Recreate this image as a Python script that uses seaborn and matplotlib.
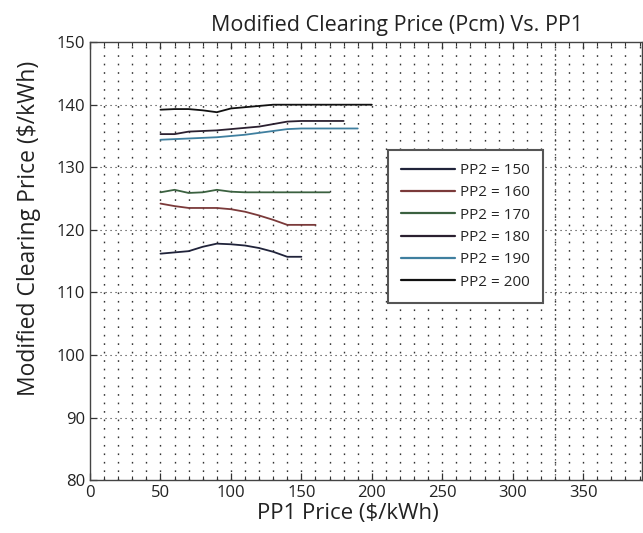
"""Modified clearing price vs PP1 price for several PP2 levels."""

import matplotlib.pyplot as plt
import seaborn as sns
import pandas as pd
import numpy as np
from matplotlib.ticker import MultipleLocator

# PP1 price samples (every 10 $/kWh from 50)
pp1_150 = [50, 60, 70, 80, 90, 100, 110, 120, 130, 140, 150]
pcm_150 = [116.2, 116.4, 116.6, 117.3, 117.8, 117.7, 117.5, 117.1, 116.5, 115.7, 115.7]

pp1_160 = [50, 60, 70, 80, 90, 100, 110, 120, 130, 140, 150, 160]
pcm_160 = [124.2, 123.8, 123.5, 123.5, 123.5, 123.3, 122.9, 122.3, 121.6, 120.8, 120.8, 120.8]

pp1_170 = [50, 60, 70, 80, 90, 100, 110, 120, 130, 140, 150, 160, 170]
pcm_170 = [126.0, 126.4, 125.9, 126.0, 126.4, 126.1, 126.0, 126.0, 126.0, 126.0, 126.0, 126.0, 126.0]

pp1_180 = [50, 60, 70, 80, 90, 100, 110, 120, 130, 140, 150, 160, 170, 180]
pcm_180 = [135.3, 135.3, 135.7, 135.8, 135.9, 136.1, 136.3, 136.5, 136.9, 137.3, 137.4, 137.4, 137.4, 137.4]

pp1_190 = [50, 60, 70, 80, 90, 100, 110, 120, 130, 140, 150, 160, 170, 180, 190]
pcm_190 = [134.4, 134.5, 134.6, 134.7, 134.8, 135.0, 135.2, 135.5, 135.8, 136.1, 136.2, 136.2, 136.2, 136.2, 136.2]

pp1_200 = [50, 60, 70, 80, 90, 100, 110, 120, 130, 140, 150, 160, 170, 180, 190, 200]
pcm_200 = [139.2, 139.3, 139.3, 139.1, 138.8, 139.4, 139.6, 139.8, 140.0, 140.0, 140.0, 140.0, 140.0, 140.0, 140.0, 140.0]

labels = ["PP2 = 150", "PP2 = 160", "PP2 = 170", "PP2 = 180", "PP2 = 190", "PP2 = 200"]
colors = ["#20233a", "#7b3a3a", "#3b6140", "#2b2030", "#3f7f9f", "#111111"]
marker_x = 330  # extra dotted reference line seen in the original

series = [(pp1_150, pcm_150), (pp1_160, pcm_160), (pp1_170, pcm_170),
          (pp1_180, pcm_180), (pp1_190, pcm_190), (pp1_200, pcm_200)]
df = pd.concat([pd.DataFrame({"pp1": x, "pcm": y, "curve": lab})
                for (x, y), lab in zip(series, labels)], ignore_index=True)

sns.set_style("white")
plt.rcParams["font.family"] = ["Open Sans", "DejaVu Sans"]

fig = plt.figure(figsize=(6.43, 5.33), dpi=100)
ax = fig.add_axes([0.14, 0.099, 0.859, 0.822])

sns.lineplot(data=df, x="pp1", y="pcm", hue="curve", hue_order=labels,
             palette=dict(zip(labels, colors)), linewidth=1.3, ax=ax,
             estimator=None, sort=False)

ax.set_xlim(0, 392)
ax.set_ylim(80, 150)
ax.xaxis.set_major_locator(MultipleLocator(50))
ax.xaxis.set_minor_locator(MultipleLocator(10))
ax.yaxis.set_major_locator(MultipleLocator(10))

# MATLAB-like dotted grid
for xv in np.arange(10, 392, 10):
    ax.axvline(xv, color="#333333", lw=1.0, ls=(0, (1.2, 4.9)), zorder=0)
for yv in np.arange(90, 150, 10):
    ax.axhline(yv, color="#333333", lw=0.8, ls=(0, (1, 3.5)), zorder=0)
ax.axvline(marker_x, color="#333333", lw=0.9, ls=(0, (1, 3)), zorder=0)

ax.tick_params(axis="both", which="major", direction="in", length=5, width=0.9,
               colors="#333333", labelsize=12, labelcolor="#222222",
               top=True, bottom=True, left=True, right=False)
ax.tick_params(axis="x", which="minor", direction="in", length=3, width=0.8,
               colors="#333333", top=True, bottom=True)
for s in ax.spines.values():
    s.set_color("#444444")
    s.set_linewidth(1.0)

ax.set_title("Modified Clearing Price (Pcm) Vs. PP1", fontsize=15.5, x=0.555,
             pad=8, color="#222222")
ax.set_xlabel("PP1 Price ($/kWh)", fontsize=16, color="#222222")
ax.xaxis.set_label_coords(0.467, -0.052)
ax.set_ylabel("Modified Clearing Price ($/kWh)", fontsize=16.5, color="#222222")
ax.yaxis.set_label_coords(-0.088, 0.574)

leg = ax.legend(loc="upper left", bbox_to_anchor=(0.54, 0.754), fontsize=11,
                frameon=True, fancybox=False, framealpha=1, edgecolor="#555555",
                handlelength=3.5, handletextpad=0.35, labelspacing=0.48,
                borderpad=0.85, borderaxespad=0, title=None)
leg.get_frame().set_linewidth(1.5)
for line in leg.get_lines():
    line.set_linewidth(1.6)

fig.savefig("out.png", dpi=100)
plt.close(fig)
